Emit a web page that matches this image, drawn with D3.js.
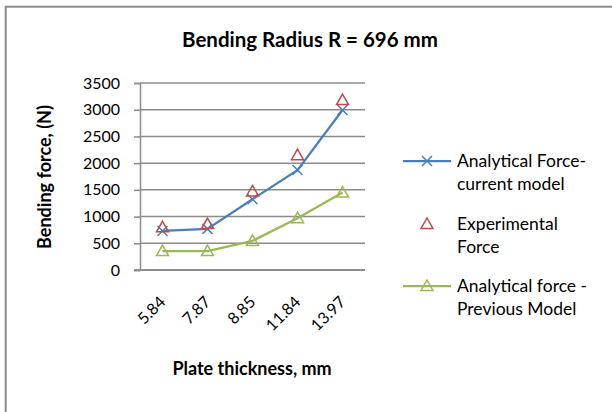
<!DOCTYPE html>
<html>
<head>
<meta charset="utf-8">
<script src="https://cdn.jsdelivr.net/npm/d3@7"></script>
<style>
  body { margin: 0; background: #fff; }
  svg { display: block; font-family: Lato, "Open Sans", sans-serif; }
</style>
</head>
<body>
<script>
"use strict";

// chart data
var thickness = ["5.84", "7.87", "8.85", "11.84", "13.97"];
var currentModel = [730, 770, 1325, 1870, 2995];
var experimental = [800, 860, 1470, 2150, 3180];
var previousModel = [355, 355, 545, 970, 1450];
var yTicks = [0, 500, 1000, 1500, 2000, 2500, 3000, 3500];

var width = 612,
    height = 412,
    plot = { left: 140, right: 365, top: 83, bottom: 270 };

var svg = d3.select("body").append("svg")
    .attr("width", width)
    .attr("height", height);

// outer chart frame (right / bottom edges fall outside the picture)
svg.append("rect")
    .attr("x", 5.7).attr("y", 6.7)
    .attr("width", 640).attr("height", 440)
    .attr("fill", "none")
    .attr("stroke", "#8c8c8c")
    .attr("stroke-width", 2);

var x = d3.scaleBand()
    .domain(thickness)
    .range([plot.left, plot.right]);

var y = d3.scaleLinear()
    .domain([0, 3500])
    .range([plot.bottom, plot.top]);

// gridlines
svg.append("g")
    .selectAll("line")
    .data(yTicks.filter(function (d) { return d > 0; }))
    .enter().append("line")
    .attr("x1", plot.left).attr("x2", plot.right)
    .attr("y1", function (d) { return y(d); })
    .attr("y2", function (d) { return y(d); })
    .attr("stroke", "#8c8c8c")
    .attr("stroke-width", 1.5);

// y axis
var yAxis = svg.append("g")
    .attr("transform", "translate(" + plot.left + ",0)")
    .call(d3.axisLeft(y).tickValues(yTicks).tickFormat(d3.format("d"))
        .tickSize(6).tickPadding(14));
yAxis.select(".domain").attr("stroke", "#8c8c8c").attr("stroke-width", 1.5);
yAxis.selectAll(".tick line").attr("stroke", "#8c8c8c").attr("stroke-width", 1.5);
yAxis.selectAll("text")
    .attr("font-family", "Lato, sans-serif")
    .attr("font-size", 16)
    .attr("fill", "#000");

// x axis
var xAxis = svg.append("g")
    .attr("transform", "translate(0," + plot.bottom + ")")
    .call(d3.axisBottom(x).tickSize(0).tickPadding(0));
xAxis.select(".domain").attr("stroke", "#8c8c8c").attr("stroke-width", 2)
    .attr("d", "M" + (plot.left - 6) + ",0H" + plot.right);
xAxis.selectAll("text")
    .attr("font-family", "Lato, sans-serif")
    .attr("font-size", 16)
    .attr("fill", "#000")
    .attr("text-anchor", "end")
    .attr("dy", 0)
    .attr("y", 0)
    .attr("transform", "translate(4,33) rotate(-45)");

function cx(i) { return x(thickness[i]) + x.bandwidth() / 2; }

var line = d3.line()
    .x(function (d, i) { return cx(i); })
    .y(function (d) { return y(d); });

function triangle(g, px, py, colour) {
    var s = 6;
    g.append("path")
        .attr("d", "M" + px + "," + (py - s) + "L" + (px + s) + "," + (py + s * 0.75) +
            "L" + (px - s) + "," + (py + s * 0.75) + "Z")
        .attr("fill", "none")
        .attr("stroke", colour)
        .attr("stroke-width", 1.5);
}

function cross(g, px, py, colour) {
    var s = 5;
    g.append("path")
        .attr("d", "M" + (px - s) + "," + (py - s) + "L" + (px + s) + "," + (py + s) +
            "M" + (px - s) + "," + (py + s) + "L" + (px + s) + "," + (py - s))
        .attr("stroke", colour)
        .attr("stroke-width", 1.5);
}

var blue = "#4a7ebb", red = "#be4b48", green = "#98b954";

// previous model series
var gPrev = svg.append("g");
gPrev.append("path").datum(previousModel)
    .attr("d", line).attr("fill", "none")
    .attr("stroke", green).attr("stroke-width", 2.25);
previousModel.forEach(function (d, i) { triangle(gPrev, cx(i), y(d), green); });

// current model series
var gCur = svg.append("g");
gCur.append("path").datum(currentModel)
    .attr("d", line).attr("fill", "none")
    .attr("stroke", blue).attr("stroke-width", 2.25);
currentModel.forEach(function (d, i) { cross(gCur, cx(i), y(d), blue); });

// experimental points
var gExp = svg.append("g");
experimental.forEach(function (d, i) { triangle(gExp, cx(i), y(d), red); });

// title and axis titles
svg.append("text")
    .attr("x", 310).attr("y", 47)
    .attr("text-anchor", "middle")
    .attr("font-size", 20.5).attr("font-weight", "bold")
    .text("Bending Radius R = 696 mm");

svg.append("text")
    .attr("transform", "translate(51,177) rotate(-90)")
    .attr("text-anchor", "middle")
    .attr("font-size", 18).attr("font-weight", "bold")
    .text("Bending force, (N)");

svg.append("text")
    .attr("x", 252).attr("y", 375)
    .attr("text-anchor", "middle")
    .attr("font-size", 18).attr("font-weight", "bold")
    .text("Plate thickness, mm");

// legend
var legendItems = [
    { lines: ["Analytical Force-", "current model"], colour: blue, marker: "cross", line: true, y: 161 },
    { lines: ["Experimental", "Force"], colour: red, marker: "triangle", line: false, y: 224 },
    { lines: ["Analytical force -", "Previous Model"], colour: green, marker: "triangle", line: true, y: 286 }
];

var legend = svg.append("g");
legendItems.forEach(function (d) {
    var g = legend.append("g");
    if (d.line) {
        g.append("line")
            .attr("x1", 403).attr("x2", 451)
            .attr("y1", d.y).attr("y2", d.y)
            .attr("stroke", d.colour).attr("stroke-width", 2.25);
    }
    if (d.marker === "cross") cross(g, 427, d.y, d.colour);
    else triangle(g, 427, d.y, d.colour);
    g.append("text")
        .attr("x", 457).attr("y", d.y + 6)
        .attr("font-size", 17.5)
        .selectAll("tspan")
        .data(d.lines)
        .enter().append("tspan")
        .attr("x", 457)
        .attr("dy", function (t, i) { return i ? 22.7 : 0; })
        .text(function (t) { return t; });
});
</script>
</body>
</html>
